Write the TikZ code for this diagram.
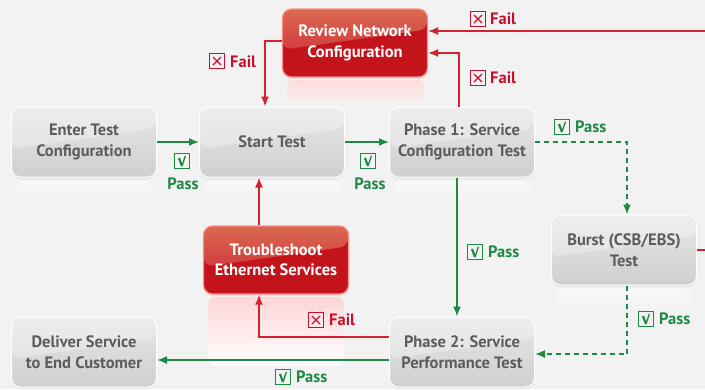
\documentclass[tikz,border=0pt]{standalone}
\usepackage{fontspec}
\setmainfont{PT Sans}
\usetikzlibrary{arrows.meta,calc,shadows}
\definecolor{bgc}{HTML}{F2F2F2}
\definecolor{greenc}{HTML}{1F8A46}
\definecolor{redc}{HTML}{C8102E}
\definecolor{redl}{HTML}{D3232E}
\definecolor{boxtop}{HTML}{E8E8E8}
\definecolor{boxbot}{HTML}{CFCFCF}
\definecolor{boxtxt}{HTML}{5C5C5C}
\definecolor{redtop}{HTML}{DA6A50}
\definecolor{redbot}{HTML}{C3141C}
\newcommand{\boxfont}{\bfseries\fontsize{16.5}{20.5}\selectfont}
\newcommand{\lblfont}{\bfseries\fontsize{16.5}{18}\selectfont}
\tikzset{
  gbox/.style={rounded corners=9pt, minimum width=145pt, minimum height=70pt,
    draw=white, line width=1pt, top color=boxtop, bottom color=boxbot,
    text=boxtxt, font=\boxfont, align=center,
    drop shadow={opacity=0.12, shadow xshift=0pt, shadow yshift=-2pt},
    path picture={\fill[white,opacity=0.28]
      (path picture bounding box.north west) -- (path picture bounding box.north east)
      -- ($(path picture bounding box.north east)!0.3!(path picture bounding box.south east)$)
      -- ($(path picture bounding box.north west)!0.6!(path picture bounding box.south west)$) -- cycle;}},
  rbox/.style={rounded corners=9pt, minimum width=145pt, minimum height=68pt,
    draw=red!45!white, line width=1.2pt, fill=redbot,
    text=white, font=\boxfont, align=center,
    drop shadow={opacity=0.15, shadow xshift=0pt, shadow yshift=-2pt},
    path picture={\shade[top color=redtop, bottom color=redc!85!redtop]
      (path picture bounding box.north west) -- (path picture bounding box.north east)
      -- ($(path picture bounding box.north east)!0.3!(path picture bounding box.south east)$)
      -- ($(path picture bounding box.north west)!0.6!(path picture bounding box.south west)$) -- cycle;}},
  gline/.style={draw=greenc, line width=1.6pt, -{Latex[length=10pt,width=8pt]}},
  gdash/.style={gline, dash pattern=on 5pt off 4pt},
  rline/.style={draw=redl, line width=1.6pt, -{Latex[length=10pt,width=8pt]}},
  passbox/.style={draw=greenc, line width=1.3pt, minimum size=15pt, inner sep=0pt,
    path picture={\draw[greenc, line width=2.2pt, line join=miter]
      ([shift={(-3pt,3pt)}]path picture bounding box.center)
      -- ([shift={(0pt,-5pt)}]path picture bounding box.center);
      \draw[greenc, line width=1.3pt]
      ([shift={(0pt,-5pt)}]path picture bounding box.center)
      -- ([shift={(3.4pt,5.2pt)}]path picture bounding box.center);}},
  failbox/.style={draw=redc, line width=1.2pt, minimum size=14.5pt, inner sep=0pt,
    path picture={\draw[redc, line width=1.4pt]
      ([shift={(-4pt,-4pt)}]path picture bounding box.center)
      -- ([shift={(4pt,4pt)}]path picture bounding box.center)
      ([shift={(-4pt,4pt)}]path picture bounding box.center)
      -- ([shift={(4pt,-4pt)}]path picture bounding box.center);}},
  passtxt/.style={text=greenc, font=\lblfont, inner sep=0pt},
  failtxt/.style={text=redc, font=\lblfont, inner sep=0pt},
}
\begin{document}
\begin{tikzpicture}[x=1pt,y=-1pt]
\useasboundingbox (0,0) rectangle (705,389);
\fill[bgc] (0,0) rectangle (705,389);
% reflections
\foreach \x/\y in {12/179,200/179,390/179,551/287,12/389,390/389}{
  \shade[top color=white!45!bgc, bottom color=bgc, rounded corners=6pt]
    (\x+4,\y+2) rectangle (\x+141,\y+24);
}
\shade[top color=red!14!white, bottom color=bgc, rounded corners=6pt] (287,80) rectangle (424,104);
\shade[top color=red!16!white, bottom color=white, rounded corners=8pt] (208,297) rectangle (344,366);

% nodes
\node[gbox] (enter) at (84,142) {Enter Test\\Configuration};
\node[gbox] (start) at (272,142) {Start Test};
\node[gbox] (p1) at (462,142) {Phase 1: Service\\Configuration Test};
\node[gbox] (burst) at (624,250) {Burst (CSB/EBS)\\Test};
\node[gbox] (deliver) at (84,352) {Deliver Service\\to End Customer};
\node[gbox] (p2) at (462,352) {Phase 2: Service\\Performance Test};
\node[rbox] (review) at (355,43) {Review Network\\Configuration};
\node[rbox] (trouble) at (276,260) {Troubleshoot\\Ethernet Services};

% connectors
\draw[gline] (enter.east) -- (start.west);
\draw[gline] (start.east) -- (p1.west);
\draw[rline] ($(p1.north)+(-3,0)$) |- ($(review.east)+(0,10)$);
\draw[rline] (burst.east) -- (715,250) |- ($(review.east)+(0,-12)$);
\coordinate (rs) at ($(start.north)+(-7,0)$);
\draw[rline] ($(review.west)+(0,-2)$) -| (rs);
\coordinate (pb) at ($(burst.north)+(3,0)$);
\draw[gdash] (p1.east) -| (pb);
\coordinate (pp) at ($(p1.south)+(-5,0)$);
\draw[gline] (pp) -- (pp |- p2.north);
\coordinate (bb) at ($(burst.south)+(3,0)$);
\draw[gdash] (bb) |- ($(p2.east)+(0,2)$);
\coordinate (tb) at ($(trouble.south)+(-17,0)$);
\draw[rline] ($(p2.west)+(0,-15)$) -| (tb);
\coordinate (tt) at ($(trouble.north)+(-17,0)$);
\draw[rline] (tt) -- (tt |- start.south);
\draw[gline] ($(p2.west)+(0,8)$) -- ($(deliver.east)+(0,8)$);

% labels
\node[passbox] (pb1) at (182,161) {};
\node[passtxt] (pt1) at (183,184) {Pass};
\node[passbox] (pb2) at (368,161) {};
\node[passtxt] (pt2) at (370,184) {Pass};
\node[failbox] (fb1) at (478,19) {};
\node[failtxt, anchor=west] (ft1) at (490,19) {Fail};
\node[failbox] (fb2) at (478,78) {};
\node[failtxt, anchor=west] (ft2) at (490,78) {Fail};
\node[failbox] (fb3) at (217,61) {};
\node[failtxt, anchor=west] (ft3) at (230,62) {Fail};
\node[passbox] (pb3) at (562,127) {};
\node[passtxt, anchor=west] (pt3) at (575,127) {Pass};
\node[passbox] (pb4) at (475,252) {};
\node[passtxt, anchor=west] (pt4) at (488,252) {Pass};
\node[passbox] (pb5) at (646,319) {};
\node[passtxt, anchor=west] (pt5) at (659,319) {Pass};
\node[failbox] (fb4) at (316,320) {};
\node[failtxt, anchor=west] (ft4) at (329,320) {Fail};
\node[passbox] (pb6) at (283,377) {};
\node[passtxt, anchor=west] (pt6) at (296,377) {Pass};
\end{tikzpicture}
\end{document}
